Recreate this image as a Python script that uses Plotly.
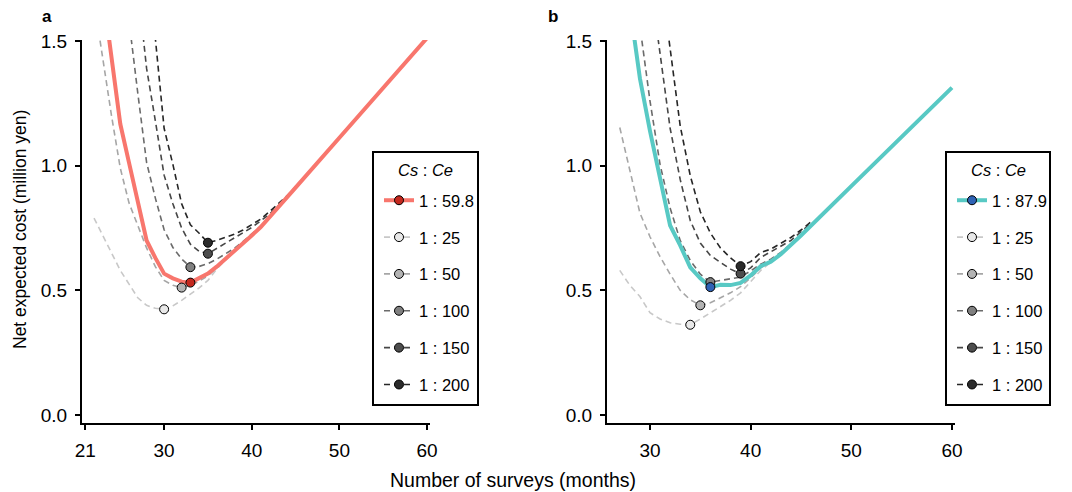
import plotly.graph_objects as go

# ---------------- data ----------------
# Panel a : optimal ratio 1 : 59.8
a_main_x = [23, 24, 25, 26, 27, 28, 29, 30, 31, 32, 33, 34, 35, 36, 37, 38, 39, 40, 41, 42, 43, 44, 45, 50, 55, 60]
a_main_y = [1.70, 1.43, 1.167, 1.011, 0.856, 0.70, 0.63, 0.567, 0.548, 0.535, 0.531, 0.548, 0.567, 0.595, 0.625,
            0.655, 0.688, 0.72, 0.753, 0.792, 0.832, 0.872, 0.912, 1.112, 1.312, 1.512]

a_25_x = [22, 23, 24, 25, 26, 27, 28, 29, 30, 31, 32, 33, 34, 35, 36, 37, 38, 39, 40]
a_25_y = [0.79, 0.72, 0.645, 0.58, 0.525, 0.47, 0.44, 0.428, 0.424, 0.438, 0.46, 0.485, 0.51, 0.54, 0.585, 0.622,
          0.653, 0.687, 0.72]

a_50_x = [22, 23, 24, 25, 26, 27, 28, 29, 30, 31, 32, 33, 34, 35, 36, 37, 38, 39]
a_50_y = [1.66, 1.42, 1.20, 0.99, 0.85, 0.76, 0.67, 0.595, 0.54, 0.52, 0.511, 0.52, 0.537, 0.558, 0.59, 0.623,
          0.654, 0.688]

a_100_x = [25, 26, 27, 28, 29, 30, 31, 32, 33, 34, 35, 36, 37, 38, 39, 40, 41, 42]
a_100_y = [1.87, 1.57, 1.29, 1.013, 0.87, 0.743, 0.672, 0.626, 0.593, 0.596, 0.607, 0.625, 0.645, 0.668, 0.695,
           0.725, 0.757, 0.793]

a_150_x = [27, 28, 29, 30, 31, 32, 33, 34, 35, 36, 37, 38, 39, 40, 41, 42, 43, 44, 45]
a_150_y = [1.72, 1.39, 1.18, 0.962, 0.847, 0.75, 0.685, 0.656, 0.647, 0.668, 0.69, 0.71, 0.73, 0.752, 0.778,
           0.805, 0.838, 0.874, 0.913]

a_200_x = [28, 29, 30, 31, 32, 33, 34, 35, 36, 37, 38, 39, 40, 41, 42, 43, 44, 45]
a_200_y = [1.84, 1.51, 1.15, 1.005, 0.847, 0.763, 0.729, 0.691, 0.70, 0.712, 0.725, 0.742, 0.762, 0.785, 0.815,
           0.845, 0.878, 0.915]

# Panel b : optimal ratio 1 : 87.9
b_main_x = [28, 29, 30, 31, 32, 33, 34, 35, 36, 37, 38, 39, 40, 41, 42, 43, 44, 45, 50, 55, 60]
b_main_y = [1.64, 1.35, 1.14, 0.955, 0.76, 0.68, 0.592, 0.548, 0.513, 0.522, 0.521, 0.53, 0.56, 0.597, 0.615,
            0.645, 0.68, 0.72, 0.918, 1.115, 1.313]

b_25_x = [27, 28, 29, 30, 31, 32, 33, 34, 35, 36, 37, 38, 39, 40, 41, 42]
b_25_y = [0.58, 0.52, 0.475, 0.41, 0.385, 0.37, 0.364, 0.362, 0.385, 0.41, 0.435, 0.46, 0.49, 0.535, 0.58, 0.613]

b_50_x = [27, 28, 29, 30, 31, 32, 33, 34, 35, 36, 37, 38, 39, 40, 41, 42]
b_50_y = [1.153, 0.975, 0.81, 0.715, 0.635, 0.565, 0.50, 0.462, 0.44, 0.45, 0.47, 0.49, 0.515, 0.55, 0.59, 0.615]

b_100_x = [28, 29, 30, 31, 32, 33, 34, 35, 36, 37, 38, 39, 40, 41, 42, 43, 44, 45]
b_100_y = [1.90, 1.56, 1.26, 1.005, 0.83, 0.70, 0.62, 0.565, 0.533, 0.54, 0.545, 0.553, 0.578, 0.605, 0.625,
           0.652, 0.686, 0.723]

b_150_x = [30, 31, 32, 33, 34, 35, 36, 37, 38, 39, 40, 41, 42, 43, 44, 45, 46]
b_150_y = [1.75, 1.44, 1.15, 0.945, 0.78, 0.69, 0.64, 0.612, 0.585, 0.567, 0.59, 0.632, 0.655, 0.675, 0.70,
           0.735, 0.77]

b_200_x = [31, 32, 33, 34, 35, 36, 37, 38, 39, 40, 41, 42, 43, 44, 45, 46]
b_200_y = [1.78, 1.46, 1.16, 0.96, 0.815, 0.73, 0.67, 0.63, 0.597, 0.615, 0.652, 0.665, 0.688, 0.712, 0.742, 0.775]

ratio_labels = ["1 : 25", "1 : 50", "1 : 100", "1 : 150", "1 : 200"]
main_label_a = "1 : 59.8"
main_label_b = "1 : 87.9"

a_ticks_x = [21, 30, 40, 50, 60]
b_ticks_x = [30, 40, 50, 60]
y_ticks = [0, 0.5, 1.0, 1.5]
y_ticktext = ["0.0", "0.5", "1.0", "1.5"]

# ---------------- styles / layout helpers ----------------
FONT = "Liberation Sans, Arial, Helvetica, sans-serif"
gray_line = ["#c8c8c8", "#a6a6a6", "#6b6b6b", "#474747", "#262626"]
gray_fill = ["#e8e8e8", "#b3b3b3", "#808080", "#4d4d4d", "#2b2b2b"]
RED_LINE, RED_PT = "#F8766D", "#C4281E"
CYAN_LINE, BLUE_PT = "#58C9C4", "#2E62B5"
DASH = "6px,4px"
MSIZE = 9

# page body has an 8px margin: figure is drawn 8px right/down of the window origin
OX, OY = 8, 8
W, H = 1064, 484


def px(x):
    return (x - OX) / W


def py(y):
    return 1 - (y - OY) / H


fig = go.Figure()


def argmin_point(xs, ys):
    i = min(range(len(ys)), key=lambda k: ys[k])
    return xs[i], ys[i]


def add_panel(xa, ya, legend, series, main, main_label, main_color, main_pt):
    for (xs, ys), lc in zip(series, gray_line):
        fig.add_trace(go.Scatter(x=xs, y=ys, mode="lines", xaxis=xa, yaxis=ya, showlegend=False,
                                 line=dict(color=lc, width=1.6, dash=DASH), hoverinfo="skip"))
    fig.add_trace(go.Scatter(x=main[0], y=main[1], mode="lines", xaxis=xa, yaxis=ya, showlegend=False,
                             line=dict(color=main_color, width=4), hoverinfo="skip"))
    for (xs, ys), fc in zip(series, gray_fill):
        mx, my = argmin_point(xs, ys)
        fig.add_trace(go.Scatter(x=[mx], y=[my], mode="markers", xaxis=xa, yaxis=ya, showlegend=False,
                                 marker=dict(size=MSIZE, color=fc, line=dict(color="black", width=1))))
    mx, my = argmin_point(*main)
    fig.add_trace(go.Scatter(x=[mx], y=[my], mode="markers", xaxis=xa, yaxis=ya, showlegend=False,
                             marker=dict(size=MSIZE, color=main_pt, line=dict(color="black", width=1))))
    fig.add_trace(go.Scatter(x=[None], y=[None], mode="lines+markers", xaxis=xa, yaxis=ya, name=main_label,
                             legend=legend, legendgroup=legend + "m",
                             line=dict(color=main_color, width=4),
                             marker=dict(size=MSIZE, color=main_pt, line=dict(color="black", width=1))))
    for lab, lc, fc in zip(ratio_labels, gray_line, gray_fill):
        fig.add_trace(go.Scatter(x=[None], y=[None], mode="lines+markers", xaxis=xa, yaxis=ya, name=lab,
                                 legend=legend, legendgroup=legend + lab,
                                 line=dict(color=lc, width=1.6, dash=DASH),
                                 marker=dict(size=MSIZE, color=fc, line=dict(color="black", width=1))))


add_panel("x", "y", "legend",
          [(a_25_x, a_25_y), (a_50_x, a_50_y), (a_100_x, a_100_y), (a_150_x, a_150_y), (a_200_x, a_200_y)],
          (a_main_x, a_main_y), main_label_a, RED_LINE, RED_PT)
add_panel("x2", "y2", "legend2",
          [(b_25_x, b_25_y), (b_50_x, b_50_y), (b_100_x, b_100_y), (b_150_x, b_150_y), (b_200_x, b_200_y)],
          (b_main_x, b_main_y), main_label_b, CYAN_LINE, BLUE_PT)

ydom = [py(423), py(40)]
axis_common = dict(showline=True, linecolor="black", linewidth=2, ticks="outside", ticklen=5, tickwidth=2,
                   tickcolor="black", showgrid=False, zeroline=False, tickfont=dict(size=19, color="black"),
                   ticklabelstandoff=4, automargin=False)

legend_common = dict(xanchor="left", yanchor="top", borderwidth=0, bgcolor="rgba(0,0,0,0)",
                     font=dict(size=16.5, color="black", family=FONT), tracegroupgap=12.4, itemwidth=30)

box_a = (373, 152, 478, 405)
box_b = (946, 152, 1050, 405)
shapes = []
for (x0, y0, x1, y1) in (box_a, box_b):
    shapes.append(dict(type="rect", xref="paper", yref="paper", x0=px(x0), y0=py(y1), x1=px(x1), y1=py(y0),
                       line=dict(color="black", width=2), fillcolor="white", layer="above"))

annotations = [
    dict(text="<b>a</b>", x=px(47), y=py(17), xref="paper", yref="paper", showarrow=False,
         font=dict(size=17), xanchor="center", yanchor="middle"),
    dict(text="<b>b</b>", x=px(553), y=py(17), xref="paper", yref="paper", showarrow=False,
         font=dict(size=17), xanchor="center", yanchor="middle"),
    dict(text="Net expected cost (million yen)", x=px(20), y=py(230), xref="paper", yref="paper",
         showarrow=False, textangle=-90, font=dict(size=17.5), xanchor="center", yanchor="middle"),
    dict(text="Number of surveys (months)", x=px(513), y=py(480), xref="paper", yref="paper",
         showarrow=False, font=dict(size=19.5), xanchor="center", yanchor="middle"),
]
for (x0, y0, x1, y1) in (box_a, box_b):
    annotations.append(dict(text="<i>Cs</i> : <i>Ce</i>", x=px((x0 + x1) / 2), y=py(170), xref="paper",
                            yref="paper", showarrow=False, font=dict(size=16.5), xanchor="center",
                            yanchor="middle"))

fig.update_layout(
    width=W, height=H, autosize=False,
    margin=dict(l=0, r=0, t=0, b=0, autoexpand=False),
    paper_bgcolor="white", plot_bgcolor="white",
    font=dict(family=FONT, color="black"),
    xaxis=dict(domain=[px(82), px(430)], range=[20.63, 60.34], tickvals=a_ticks_x, anchor="y", **axis_common),
    yaxis=dict(domain=ydom, range=[-0.032, 1.504], tickvals=y_ticks, ticktext=y_ticktext, anchor="x",
               **axis_common),
    xaxis2=dict(domain=[px(607), px(955)], range=[25.73, 60.3], tickvals=b_ticks_x, anchor="y2", **axis_common),
    yaxis2=dict(domain=ydom, range=[-0.032, 1.504], tickvals=y_ticks, ticktext=y_ticktext, anchor="x2",
                **axis_common),
    legend=dict(x=px(379), y=py(183), **legend_common),
    legend2=dict(x=px(952), y=py(183), **legend_common),
    showlegend=True,
    shapes=shapes,
    annotations=annotations,
)

fig.write_html("out.html")
